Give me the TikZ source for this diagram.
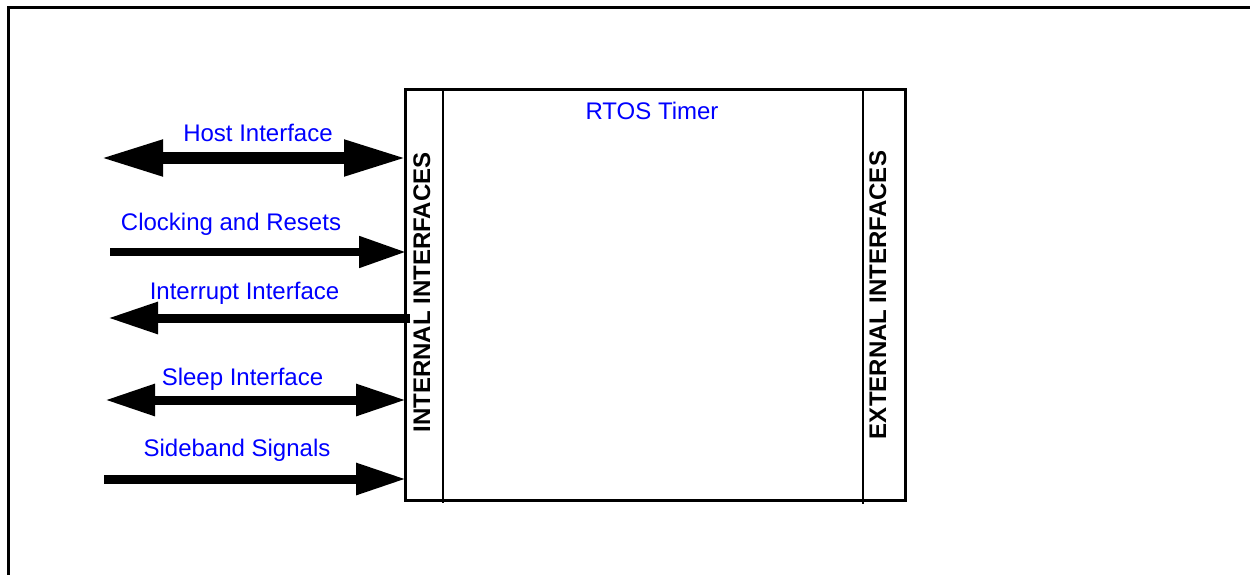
\documentclass[tikz,border=0pt]{standalone}
\usepackage{fontspec}
\setmainfont{Liberation Sans}
\usetikzlibrary{arrows.meta}
\definecolor{lblblue}{RGB}{0,0,255}
\tikzset{
  lbl/.style={text=lblblue, font=\fontsize{24}{28}\selectfont, anchor=base, inner sep=0pt},
  vlbl/.style={font=\fontsize{24}{28}\selectfont\bfseries, anchor=base, inner sep=0pt, rotate=90},
  bigtip/.tip={Triangle[length=62pt,width=34pt]},
  smalltip/.tip={Triangle[length=50pt,width=30pt]},
  clktip/.tip={Triangle[length=47pt,width=30pt]},
  bus/.style={line width=9pt},
}
\begin{document}
\begin{tikzpicture}[x=1pt,y=-1pt]
\useasboundingbox (0,0) rectangle (1250,575);
% outer frame
\draw[line width=3pt] (8,580) -- (8,8) -- (1255,8);
% main box
\node[draw, line width=3pt, minimum width=500pt, minimum height=410pt, inner sep=0pt, outer sep=0pt, anchor=north west] (box) at (405,90) {};
\coordinate (il1) at (443,90); \coordinate (il2) at (443,503);
\coordinate (el1) at (863,90); \coordinate (el2) at (863,504);
\draw[line width=2pt] (il1) -- (il2);
\draw[line width=2pt] (el1) -- (el2);
\node[lbl] (title) at (652,120) {RTOS Timer};
\node[vlbl] (intl) at (430,292.5) {INTERNAL INTERFACES};
\node[vlbl] (extl) at (886,295) {EXTERNAL INTERFACES};
% host interface
\coordinate (h1) at (101,158); \coordinate (h2) at (406,158);
\draw[line width=11pt, bigtip-bigtip] (h1) -- (h2);
\node[lbl] (hl) at (258,142) {Host Interface};
% clocking
\coordinate (c1) at (110,252); \coordinate (c2) at (406,252);
\draw[line width=8pt, -clktip] (c1) -- (c2);
\node[lbl] (cl) at (231,230) {Clocking and Resets};
% interrupt
\coordinate (i1) at (410,318); \coordinate (i2) at (108,318);
\draw[bus, -smalltip] (i1) -- (i2);
\node[lbl] (il) at (244.5,299) {Interrupt Interface};
% sleep
\coordinate (s1) at (105,400); \coordinate (s2) at (406,400);
\draw[bus, smalltip-smalltip] (s1) -- (s2);
\node[lbl] (sl) at (242.5,385) {Sleep Interface};
% sideband
\coordinate (b1) at (104,479); \coordinate (b2) at (406,479);
\draw[bus, -smalltip] (b1) -- (b2);
\node[lbl] (bl) at (237,456) {Sideband Signals};
\end{tikzpicture}
\end{document}
